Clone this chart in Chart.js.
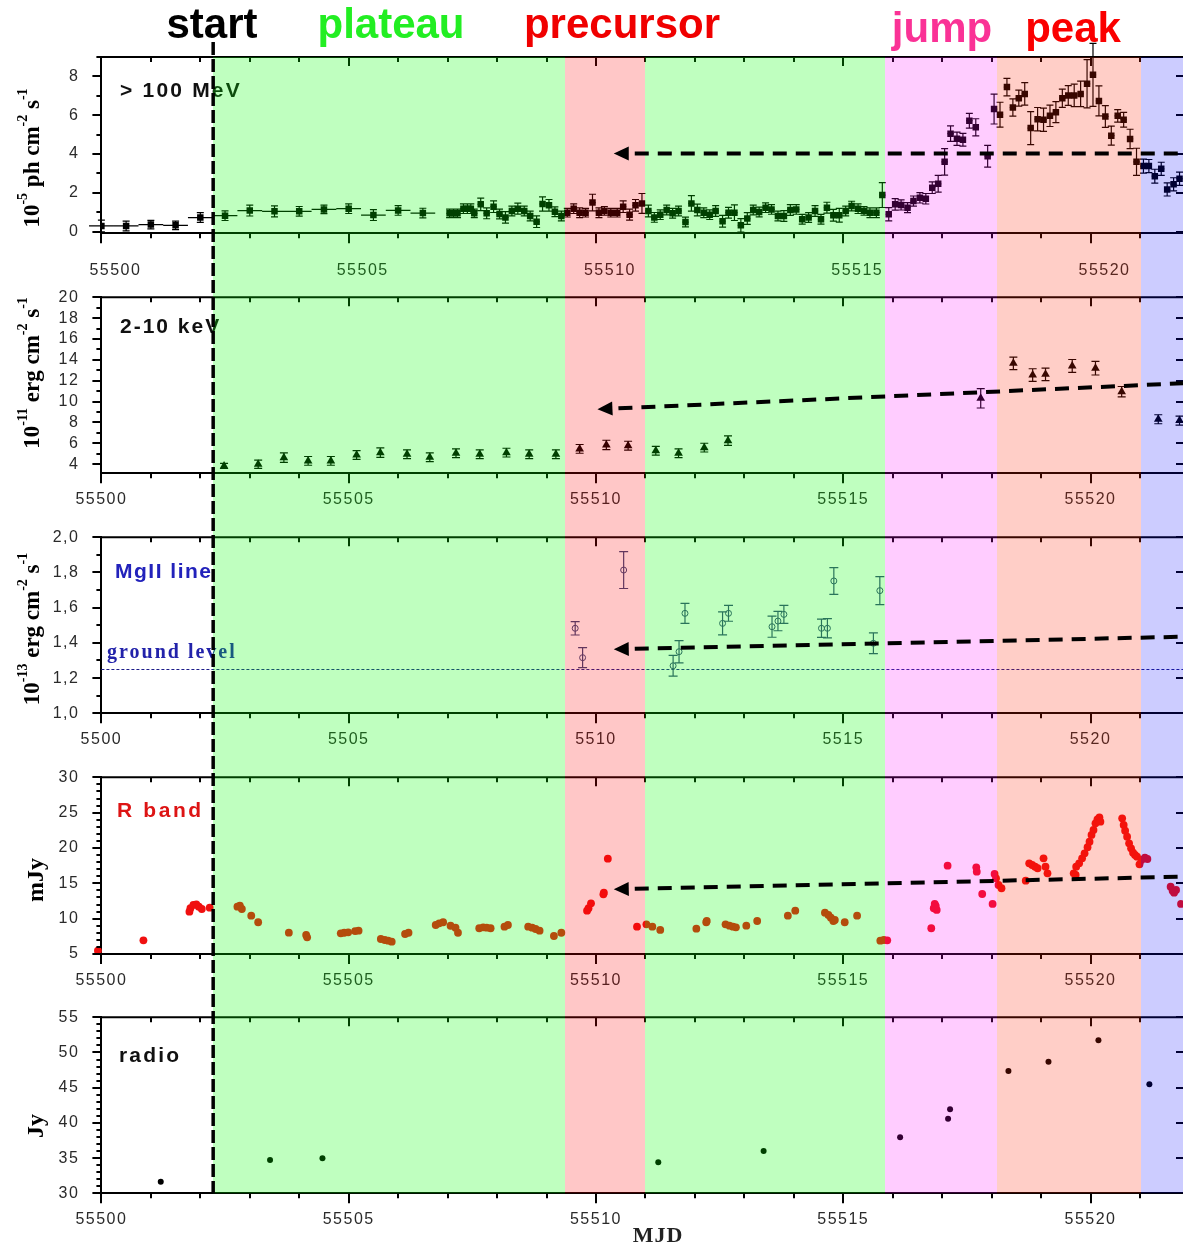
<!DOCTYPE html>
<html>
<head>
<meta charset="utf-8">
<script src="https://cdn.jsdelivr.net/npm/chart.js@4.4.1/dist/chart.umd.min.js"></script>
<style>
  body { margin: 0; background: #fff; }
  #fig { position: relative; width: 1183px; height: 1243px; }
  #fig canvas { position: absolute; left: 0; }
</style>
</head>
<body>
<div id="fig">
  <canvas id="c1" width="1183" height="285" style="top:0px"></canvas>
  <canvas id="c2" width="1183" height="240" style="top:285px"></canvas>
  <canvas id="c3" width="1183" height="240" style="top:525px"></canvas>
  <canvas id="c4" width="1183" height="240" style="top:765px"></canvas>
  <canvas id="c5" width="1183" height="238" style="top:1005px"></canvas>
</div>
<script>
// --- data ---
const X_MIN = 55500, X_MAX = 55521.87;
const xTicks = [55500, 55505, 55510, 55515, 55520];

// phases (MJD where each coloured band starts)
const phaseEdges = [55502.26, 55509.37, 55511.0, 55515.85, 55518.1, 55521.02];
const bandFill = ['rgba(0,255,0,0.25)', 'rgba(255,0,0,0.22)', 'rgba(0,255,0,0.25)',
                  'rgba(255,0,255,0.2)', 'rgba(255,30,0,0.22)', 'rgba(0,0,255,0.2)'];

// > 100 MeV
const gammaMjd = [55500.0, 55500.5, 55501.0, 55501.5, 55502.0, 55502.5, 55503.0, 55503.5, 55504.0, 55504.5, 55505.0, 55505.5, 55506.0, 55506.5,
  55507.04, 55507.12, 55507.20, 55507.32, 55507.40, 55507.47, 55507.54, 55507.67, 55507.79, 55507.93,
  55508.05, 55508.17, 55508.30, 55508.42, 55508.55, 55508.67, 55508.80, 55508.92,
  55509.05, 55509.17, 55509.30, 55509.42, 55509.55, 55509.67, 55509.79, 55509.93,
  55510.06, 55510.17, 55510.30, 55510.43, 55510.55, 55510.68, 55510.80, 55510.93,
  55511.06, 55511.18, 55511.30, 55511.43, 55511.55, 55511.67, 55511.81, 55511.93,
  55512.05, 55512.18, 55512.30, 55512.42, 55512.56, 55512.68, 55512.80, 55512.93,
  55513.06, 55513.18, 55513.30, 55513.43, 55513.55, 55513.68, 55513.80, 55513.93,
  55514.05, 55514.17, 55514.30, 55514.43, 55514.55, 55514.67, 55514.80, 55514.92,
  55515.05, 55515.17, 55515.30, 55515.42, 55515.54, 55515.67, 55515.79, 55515.92,
  55516.05, 55516.17, 55516.30, 55516.42, 55516.55, 55516.67, 55516.80, 55516.92,
  55517.05, 55517.17, 55517.30, 55517.42, 55517.55, 55517.68, 55517.92,
  55518.05, 55518.17, 55518.31, 55518.43, 55518.55, 55518.67, 55518.79, 55518.93,
  55519.05, 55519.18, 55519.30, 55519.43, 55519.55, 55519.67, 55519.80, 55519.93,
  55520.05, 55520.17, 55520.30, 55520.42, 55520.55, 55520.67, 55520.80, 55520.93,
  55521.07, 55521.18, 55521.30, 55521.43, 55521.55, 55521.68, 55521.80];
const gammaFlux = [0.30, 0.30, 0.37, 0.33, 0.73, 0.83, 1.09, 1.05, 1.05, 1.15, 1.19, 0.86, 1.10, 0.96,
  0.95, 0.95, 0.95, 1.19, 1.19, 1.19, 0.95, 1.41, 0.95, 1.29,
  0.91, 0.74, 1.07, 1.19, 1.07, 0.81, 0.52, 1.43,
  1.36, 1.03, 0.81, 0.98, 1.19, 0.98, 0.98, 1.50,
  0.98, 1.07, 0.98, 0.98, 1.29, 0.88, 1.36, 1.46,
  1.07, 0.74, 0.88, 1.12, 0.95, 1.07, 0.50, 1.46,
  1.12, 0.98, 0.88, 1.07, 0.54, 0.98, 0.98, 0.33,
  0.68, 1.12, 1.02, 1.24, 1.15, 0.81, 0.81, 1.12,
  1.15, 0.64, 0.73, 1.07, 0.64, 1.24, 0.85, 0.85,
  1.07, 1.32, 1.19, 1.07, 0.98, 0.98, 1.89, 0.90,
  1.41, 1.38, 1.24, 1.58, 1.75, 1.70, 2.27, 2.47,
  3.60, 5.05, 4.79, 4.74, 5.72, 5.38, 3.89,
  6.32, 6.03, 7.45, 6.40, 6.88, 7.10, 5.34, 5.80,
  5.77, 5.97, 6.16, 6.88, 7.02, 7.02, 7.10, 7.62,
  8.08, 6.74, 5.94, 4.95, 5.97, 5.77, 4.78, 3.60,
  3.38, 3.38, 2.86, 3.24, 2.18, 2.44, 2.73];
const gammaErr = [0.30, 0.25, 0.22, 0.22, 0.25, 0.25, 0.28, 0.28, 0.25, 0.22, 0.25, 0.28, 0.25, 0.25,
  0.22, 0.22, 0.22, 0.25, 0.25, 0.25, 0.22, 0.32, 0.28, 0.30,
  0.25, 0.30, 0.25, 0.28, 0.25, 0.25, 0.30, 0.37,
  0.30, 0.25, 0.25, 0.22, 0.25, 0.25, 0.22, 0.43,
  0.25, 0.22, 0.22, 0.22, 0.30, 0.28, 0.30, 0.51,
  0.30, 0.25, 0.25, 0.25, 0.25, 0.25, 0.25, 0.40,
  0.30, 0.25, 0.25, 0.28, 0.30, 0.28, 0.40, 0.35,
  0.30, 0.25, 0.25, 0.25, 0.25, 0.25, 0.28, 0.28,
  0.25, 0.25, 0.25, 0.28, 0.25, 0.28, 0.30, 0.35,
  0.25, 0.25, 0.25, 0.22, 0.25, 0.25, 0.64, 0.34,
  0.30, 0.26, 0.26, 0.26, 0.27, 0.27, 0.30, 0.43,
  0.68, 0.40, 0.34, 0.33, 0.38, 0.44, 0.56,
  0.77, 0.64, 0.45, 0.44, 0.41, 0.58, 0.85, 0.60,
  0.60, 0.55, 0.54, 0.47, 0.51, 0.58, 0.66, 1.24,
  1.62, 0.77, 0.56, 0.49, 0.32, 0.38, 0.50, 0.70,
  0.36, 0.34, 0.36, 0.34, 0.34, 0.34, 0.34];
// half width of the time bins (half-day bins first, then 3 h bins)
const gammaBin = gammaMjd.map(d => d < 55506.8 ? 0.25 : 0.0625);

// 2-10 keV
const xrayMjd = [55502.48, 55503.17, 55503.69, 55504.18, 55504.64, 55505.16, 55505.64, 55506.18, 55506.64, 55507.17,
  55507.65, 55508.19, 55508.65, 55509.19, 55509.67, 55510.21, 55510.65, 55511.21, 55511.67, 55512.19, 55512.67,
  55517.78, 55518.44, 55518.83, 55519.09, 55519.63, 55520.10, 55520.63, 55521.37, 55521.80];
const xrayFlux = [3.84, 4.00, 4.63, 4.32, 4.32, 4.89, 5.11, 4.96, 4.67, 5.05,
  4.96, 5.11, 4.96, 4.96, 5.47, 5.85, 5.78, 5.30, 5.05, 5.59, 6.26,
  10.32, 13.67, 12.55, 12.62, 13.42, 13.20, 10.95, 8.31, 8.18];
const xrayErr = [0.25, 0.40, 0.45, 0.42, 0.42, 0.42, 0.45, 0.42, 0.42, 0.42,
  0.42, 0.42, 0.42, 0.42, 0.42, 0.45, 0.42, 0.42, 0.42, 0.42, 0.45,
  0.93, 0.60, 0.60, 0.60, 0.62, 0.65, 0.50, 0.43, 0.43];

// MgII line
const mgMjd = [55509.58, 55509.73, 55510.56, 55511.56, 55511.68, 55511.80, 55512.56, 55512.68,
  55513.56, 55513.68, 55513.80, 55514.56, 55514.68, 55514.81, 55515.61, 55515.74];
const mgFlux = [1.483, 1.316, 1.814, 1.270, 1.350, 1.568, 1.511, 1.568,
  1.492, 1.524, 1.562, 1.483, 1.483, 1.752, 1.398, 1.697];
const mgErr = [0.038, 0.057, 0.105, 0.059, 0.063, 0.057, 0.065, 0.045,
  0.060, 0.055, 0.051, 0.052, 0.055, 0.076, 0.059, 0.079];
const groundLevel = 1.25;

// R band
const rMjd = [55499.93, 55500.85, 55501.78, 55501.80, 55501.86, 55501.92, 55501.97, 55502.03, 55502.19,
  55502.75, 55502.80, 55502.84, 55503.03, 55503.17, 55503.79, 55504.14, 55504.16,
  55504.84, 55504.91, 55504.99, 55505.13, 55505.20, 55505.65, 55505.73, 55505.80, 55505.87,
  55506.14, 55506.21, 55506.76, 55506.83, 55506.91, 55507.06, 55507.16, 55507.21,
  55507.64, 55507.72, 55507.79, 55507.87, 55508.15, 55508.22, 55508.63, 55508.71, 55508.78, 55508.86,
  55509.15, 55509.30, 55509.82, 55509.85, 55509.90, 55510.15, 55510.16, 55510.24,
  55510.83, 55511.02, 55511.14, 55511.30, 55512.03, 55512.23, 55512.24,
  55512.62, 55512.70, 55512.77, 55512.83, 55513.04, 55513.26, 55513.88, 55514.03,
  55514.63, 55514.70, 55514.75, 55514.80, 55514.83, 55515.03, 55515.28,
  55515.75, 55515.82, 55515.89, 55516.78, 55516.83, 55516.85, 55516.87, 55516.89,
  55517.11, 55517.69, 55517.70, 55517.81, 55518.02, 55518.06, 55518.09, 55518.14, 55518.20,
  55518.69, 55518.76, 55518.82, 55518.88, 55518.93, 55519.05, 55519.09, 55519.13,
  55519.66, 55519.70, 55519.71, 55519.77, 55519.83, 55519.88, 55519.94, 55519.98,
  55520.02, 55520.06, 55520.10, 55520.14, 55520.18, 55520.20,
  55520.64, 55520.67, 55520.70, 55520.74, 55520.78, 55520.82, 55520.86, 55520.90, 55520.94,
  55520.99, 55521.03, 55521.10, 55521.15, 55521.62, 55521.66, 55521.69, 55521.73, 55521.83];
const rFlux = [5.47, 6.94, 10.99, 11.47, 11.94, 12.03, 11.69, 11.37, 11.55,
  11.69, 11.83, 11.37, 10.42, 9.49, 8.02, 7.69, 7.36,
  7.93, 8.01, 8.07, 8.25, 8.30, 7.12, 6.98, 6.88, 6.74,
  7.83, 8.01, 9.10, 9.34, 9.49, 9.00, 8.72, 8.01,
  8.64, 8.78, 8.72, 8.64, 8.86, 9.10, 8.86, 8.72, 8.54, 8.30,
  7.55, 8.01, 11.13, 11.47, 12.17, 13.45, 13.67, 18.49,
  8.86, 9.20, 8.86, 8.40, 8.58, 9.49, 9.67,
  9.20, 9.01, 8.86, 8.78, 9.01, 9.67, 10.42, 11.13,
  10.84, 10.52, 10.14, 9.67, 9.81, 9.49, 10.42,
  6.88, 6.98, 6.94, 8.64, 11.47, 12.08, 11.79, 11.23,
  17.50, 17.27, 16.65, 13.49, 12.08, 16.32, 15.71, 14.76, 14.30,
  15.37, 17.83, 17.59, 17.35, 17.13, 18.54, 17.35, 16.42,
  16.42, 16.18, 17.35, 17.83, 18.54, 19.25, 20.10, 20.89,
  21.84, 22.55, 23.49, 24.06, 24.34, 23.72,
  24.20, 23.25, 22.45, 21.60, 20.66, 19.95, 19.33, 19.01, 18.77,
  17.69, 18.30, 18.63, 18.44, 14.53, 13.96, 13.67, 14.06, 12.08];

// radio
const radioMjd = [55501.20, 55503.41, 55504.47, 55511.26, 55513.39, 55516.15, 55517.12, 55517.16, 55518.34, 55519.15, 55520.16, 55521.19];
const radioFlux = [31.65, 34.73, 34.97, 34.40, 36.01, 37.95, 40.60, 41.93, 47.37, 48.69, 51.73, 45.48];

// tick labels
const gammaTicks = [0, 2, 4, 6, 8];
const xrayTicks = [4, 6, 8, 10, 12, 14, 16, 18, 20];
const mgTicks = [1.0, 1.2, 1.4, 1.6, 1.8, 2.0];
const rTicks = [5, 10, 15, 20, 25, 30];
const radioTicks = [30, 35, 40, 45, 50, 55];

// --- drawing helpers ---
const SANS = "'Liberation Sans', Arial, sans-serif";
const SERIF = "'Liberation Serif', 'Times New Roman', serif";
Chart.defaults.font.family = SANS;

const pts = (xs, ys) => xs.map((x, i) => ({ x, y: ys[i] }));

function drawErrors(chart, e) {
  const { ctx, scales: { x, y } } = chart;
  ctx.save();
  ctx.strokeStyle = e.color;
  ctx.lineWidth = 1.2;
  ctx.beginPath();
  e.x.forEach((xv, i) => {
    const px = x.getPixelForValue(xv);
    const py = y.getPixelForValue(e.y[i]);
    const lo = y.getPixelForValue(e.y[i] - e.ey[i]);
    const hi = y.getPixelForValue(e.y[i] + e.ey[i]);
    ctx.moveTo(px, lo); ctx.lineTo(px, hi);
    ctx.moveTo(px - e.cap, lo); ctx.lineTo(px + e.cap, lo);
    ctx.moveTo(px - e.cap, hi); ctx.lineTo(px + e.cap, hi);
    if (e.ex) {
      ctx.moveTo(x.getPixelForValue(xv - e.ex[i]), py);
      ctx.lineTo(x.getPixelForValue(xv + e.ex[i]), py);
    }
  });
  ctx.stroke();
  ctx.restore();
}

function spacedText(ctx, t) {
  ctx.save();
  ctx.font = t.font;
  ctx.fillStyle = t.color;
  ctx.letterSpacing = (t.sp || 0) + 'px';
  ctx.textAlign = t.align || 'left';
  ctx.textBaseline = 'alphabetic';
  ctx.fillText(t.text, t.x, t.y);
  ctx.restore();
}

function drawTitle(ctx, ti) {
  ctx.save();
  ctx.translate(ti.bx, ti.cy);
  ctx.rotate(-Math.PI / 2);
  ctx.fillStyle = '#000';
  ctx.textBaseline = 'alphabetic';
  const big = 'bold ' + ti.size + 'px ' + SERIF, small = 'bold 14px ' + SERIF;
  let w = 0;
  ti.segs.forEach((s, i) => { ctx.font = i % 2 ? small : big; w += ctx.measureText(s).width; });
  let cx = -w / 2;
  ti.segs.forEach((s, i) => {
    ctx.font = i % 2 ? small : big;
    ctx.fillText(s, cx, i % 2 ? -12 : 0);
    cx += ctx.measureText(s).width;
  });
  ctx.restore();
}

function makePanelPlugin(p) {
  return {
    id: 'panel',
    beforeDraw(chart) { chart.ctx.letterSpacing = '1.5px'; },
    beforeDatasetsDraw(chart) {
      const { ctx, chartArea: a, scales: { y } } = chart;
      if (p.ground !== undefined) {
        const gy = Math.round(y.getPixelForValue(p.ground)) + 0.5;
        ctx.save();
        ctx.strokeStyle = '#1c1c8a'; ctx.lineWidth = 1; ctx.setLineDash([3, 2]);
        ctx.beginPath(); ctx.moveTo(a.left, gy); ctx.lineTo(a.right, gy); ctx.stroke();
        ctx.restore();
      }
      if (p.errors) drawErrors(chart, p.errors);
    },
    afterDraw(chart) {
      const { ctx, chartArea: a, scales: { x, y } } = chart;
      ctx.save();
      ctx.letterSpacing = '0px';
      // frame and tick marks
      ctx.strokeStyle = '#000'; ctx.lineWidth = 2;
      ctx.beginPath();
      ctx.moveTo(a.left, a.top); ctx.lineTo(a.right, a.top);
      for (let d = X_MIN; d <= X_MAX; d++) {
        const px = Math.round(x.getPixelForValue(d));
        const major = xTicks.includes(d);
        ctx.moveTo(px, a.bottom); ctx.lineTo(px, a.bottom + (major ? 10 : 5));
        ctx.moveTo(px, a.top); ctx.lineTo(px, a.top + (major ? 9 : 5));
      }
      const n = Math.round((p.minorTo - p.minorFrom) / p.minorStep);
      for (let k = 0; k <= n; k++) {
        const v = p.minorFrom + k * p.minorStep;
        const py = Math.round(y.getPixelForValue(v));
        const major = p.yTicks.some(t => Math.abs(t - v) < 1e-6);
        ctx.moveTo(a.left, py); ctx.lineTo(a.left - (major ? 9 : 5), py);
        if (major) { ctx.moveTo(a.right, py); ctx.lineTo(a.right - 7, py); }
      }
      ctx.stroke();
      // labels inside the panel
      (p.labels || []).forEach(t => spacedText(ctx, Object.assign({}, t, { y: t.y - p.top })));
      drawTitle(ctx, { segs: p.title, size: p.titleSize || 23, bx: p.titleX, cy: p.titleY - p.top });
      // translucent phase bands over everything
      const top = p.first ? a.top : 0;
      const bottom = p.last ? a.bottom : chart.height;
      phaseEdges.forEach((e, i) => {
        const x0 = Math.round(x.getPixelForValue(e));
        const x1 = i + 1 < phaseEdges.length ? Math.round(x.getPixelForValue(phaseEdges[i + 1])) : a.right;
        ctx.fillStyle = bandFill[i];
        ctx.fillRect(x0, top, x1 - x0, bottom - top);
      });
      // start line
      const sx = x.getPixelForValue(phaseEdges[0]);
      const sTop = p.first ? 42 : 0;
      ctx.strokeStyle = '#000'; ctx.lineWidth = 3.5;
      ctx.setLineDash([13, 4]);
      ctx.lineDashOffset = ((p.top + sTop - 42) % 17);
      ctx.beginPath(); ctx.moveTo(sx, sTop); ctx.lineTo(sx, bottom); ctx.stroke();
      // dashed arrow
      if (p.arrow) {
        const x0 = x.getPixelForValue(p.arrow.from[0]), y0 = y.getPixelForValue(p.arrow.from[1]);
        const x1 = x.getPixelForValue(p.arrow.to[0]), y1 = y.getPixelForValue(p.arrow.to[1]);
        const ang = Math.atan2(y1 - y0, x1 - x0), c = Math.cos(ang), s = Math.sin(ang);
        const bx = x1 - 15 * c, by = y1 - 15 * s;
        ctx.lineWidth = 4; ctx.setLineDash([14, 9]); ctx.lineDashOffset = 0;
        ctx.beginPath(); ctx.moveTo(bx - 6 * c, by - 6 * s); ctx.lineTo(x0, y0); ctx.stroke();
        ctx.setLineDash([]);
        ctx.fillStyle = '#000';
        ctx.beginPath();
        ctx.moveTo(x1, y1);
        ctx.lineTo(bx + 7 * s, by - 7 * c);
        ctx.lineTo(bx - 7 * s, by + 7 * c);
        ctx.closePath(); ctx.fill();
      }
      (p.after || []).forEach(t => spacedText(ctx, Object.assign({}, t, { y: t.y - p.top })));
      ctx.restore();
    }
  };
}

function panelChart(id, p) {
  const tickFont = { family: SANS, size: 16 };
  return new Chart(document.getElementById(id), {
    type: 'scatter',
    data: { datasets: p.datasets },
    options: {
      responsive: false,
      animation: false,
      events: [],
      layout: { autoPadding: false, padding: { top: p.plotTop - p.top, left: 0, right: 0, bottom: 0 } },
      plugins: { legend: { display: false }, tooltip: { enabled: false } },
      scales: {
        x: {
          type: 'linear', min: X_MIN, max: X_MAX,
          grid: { display: false },
          border: { display: true, color: '#000', width: 2 },
          afterFit: s => { s.height = p.top + p.height - p.plotBottom; s.paddingLeft = 0; s.paddingRight = 0; },
          afterBuildTicks: s => { s.ticks = xTicks.map(v => ({ value: v })); },
          ticks: {
            padding: p.xPad, labelOffset: p.xOffset || 0, color: '#2a2a2a', font: tickFont,
            maxRotation: 0, autoSkip: false, callback: p.xFmt || (v => String(v))
          }
        },
        y: {
          type: 'linear', min: p.yMin, max: p.yMax,
          grid: { display: false },
          border: { display: true, color: '#000', width: 2 },
          afterFit: s => { s.width = 101.4; s.paddingTop = 0; s.paddingBottom = 0; },
          afterBuildTicks: s => { s.ticks = p.yTicks.map(v => ({ value: v })); },
          ticks: { padding: 14, color: '#2a2a2a', font: tickFont, autoSkip: false, callback: p.yFmt || (v => String(v)) }
        }
      }
    },
    plugins: [makePanelPlugin(p)]
  });
}

const labelFont = 'bold 21px ' + SANS;
const headFont = 'bold 42px ' + SANS;

// panel 1: > 100 MeV
panelChart('c1', {
  top: 0, height: 285, plotTop: 57, plotBottom: 233.3, xPad: 20, xOffset: 14,
  yMin: -0.08, yMax: 9, yTicks: gammaTicks, minorFrom: 0, minorTo: 9, minorStep: 1,
  first: true,
  datasets: [{
    data: pts(gammaMjd, gammaFlux), pointStyle: 'rect', pointRadius: 4.6,
    backgroundColor: '#000', borderColor: '#000', borderWidth: 0
  }],
  errors: { x: gammaMjd, y: gammaFlux, ey: gammaErr, ex: gammaBin, color: '#000', cap: 3.5 },
  arrow: { from: [X_MAX, 4.03], to: [55510.36, 4.03] },
  title: ['10', '-5', ' ph cm', '-2', ' s', '-1'], titleX: 38.5, titleY: 158,
  labels: [{ text: '> 100 MeV', x: 120, y: 96.7, font: labelFont, color: '#111', sp: 2.2 }],
  after: [
    { text: 'start', x: 212, y: 38, font: headFont, color: '#000', align: 'center' },
    { text: 'plateau', x: 391, y: 38, font: headFont, color: '#22ee22', align: 'center' },
    { text: 'precursor', x: 622, y: 38, font: headFont, color: '#f00000', align: 'center' },
    { text: 'jump', x: 942, y: 42, font: headFont, color: '#fa3296', align: 'center' },
    { text: 'peak', x: 1073, y: 42, font: headFont, color: '#fa0000', align: 'center' }
  ]
});

// panel 2: 2-10 keV
panelChart('c2', {
  top: 285, height: 240, plotTop: 297.3, plotBottom: 473.3, xPad: 9,
  yMin: 3.13, yMax: 20, yTicks: xrayTicks, minorFrom: 4, minorTo: 20, minorStep: 1,
  datasets: [{
    data: pts(xrayMjd, xrayFlux), pointStyle: 'triangle', pointRadius: 5,
    backgroundColor: '#000', borderColor: '#000', borderWidth: 0
  }],
  errors: { x: xrayMjd, y: xrayFlux, ey: xrayErr, color: '#000', cap: 4 },
  arrow: { from: [X_MAX, 11.76], to: [55510.03, 9.27] },
  title: ['10', '-11', ' erg cm', '-2', ' s', '-1'], titleX: 38.5, titleY: 373,
  labels: [{ text: '2-10 keV', x: 120, y: 333, font: labelFont, color: '#111', sp: 2 }]
});

// panel 3: MgII line
panelChart('c3', {
  top: 525, height: 240, plotTop: 537.3, plotBottom: 713.3, xPad: 9,
  xFmt: v => String(v).slice(1),
  yFmt: v => v.toFixed(1).replace('.', ','),
  yMin: 1, yMax: 2, yTicks: mgTicks, minorFrom: 1, minorTo: 2, minorStep: 0.1,
  ground: groundLevel,
  datasets: [{
    data: pts(mgMjd, mgFlux), pointStyle: 'circle', pointRadius: 3,
    backgroundColor: 'rgba(255,255,255,0)', borderColor: '#374678', borderWidth: 1
  }],
  errors: { x: mgMjd, y: mgFlux, ey: mgErr, color: '#374678', cap: 4.5 },
  arrow: { from: [X_MAX, 1.435], to: [55510.36, 1.364] },
  title: ['10', '-13', ' erg cm', '-2', ' s', '-1'], titleX: 38.5, titleY: 629,
  labels: [
    { text: 'MgII line', x: 115, y: 578, font: labelFont, color: '#2222bb', sp: 1.5 },
    { text: 'ground level', x: 107, y: 658, font: 'bold 20px ' + SERIF, color: '#2222aa', sp: 2 }
  ]
});

// panel 4: R band
panelChart('c4', {
  top: 765, height: 240, plotTop: 777.3, plotBottom: 954, xPad: 8.5,
  yMin: 5, yMax: 30, yTicks: rTicks, minorFrom: 5, minorTo: 30, minorStep: 1,
  datasets: [{
    data: pts(rMjd, rFlux), pointStyle: 'circle', pointRadius: 3.9, clip: false,
    backgroundColor: '#f01010', borderColor: '#f01010', borderWidth: 0
  }],
  arrow: { from: [X_MAX, 15.94], to: [55510.36, 14.15] },
  title: ['mJy'], titleSize: 24, titleX: 43, titleY: 880,
  labels: [{ text: 'R band', x: 117, y: 816.7, font: labelFont, color: '#dd1414', sp: 2.6 }]
});

// panel 5: radio
panelChart('c5', {
  top: 1005, height: 238, plotTop: 1017.3, plotBottom: 1193.3, xPad: 9,
  yMin: 30, yMax: 55, yTicks: radioTicks, minorFrom: 30, minorTo: 55, minorStep: 1,
  last: true,
  datasets: [{
    data: pts(radioMjd, radioFlux), pointStyle: 'circle', pointRadius: 3,
    backgroundColor: '#000', borderColor: '#000', borderWidth: 0
  }],
  title: ['Jy'], titleSize: 24, titleX: 43, titleY: 1126,
  labels: [{ text: 'radio', x: 119, y: 1061.7, font: labelFont, color: '#111', sp: 2.2 }],
  after: [{ text: 'MJD', x: 658, y: 1241.5, font: 'bold 22px ' + SERIF, color: '#222', sp: 1, align: 'center' }]
});
</script>
</body>
</html>
